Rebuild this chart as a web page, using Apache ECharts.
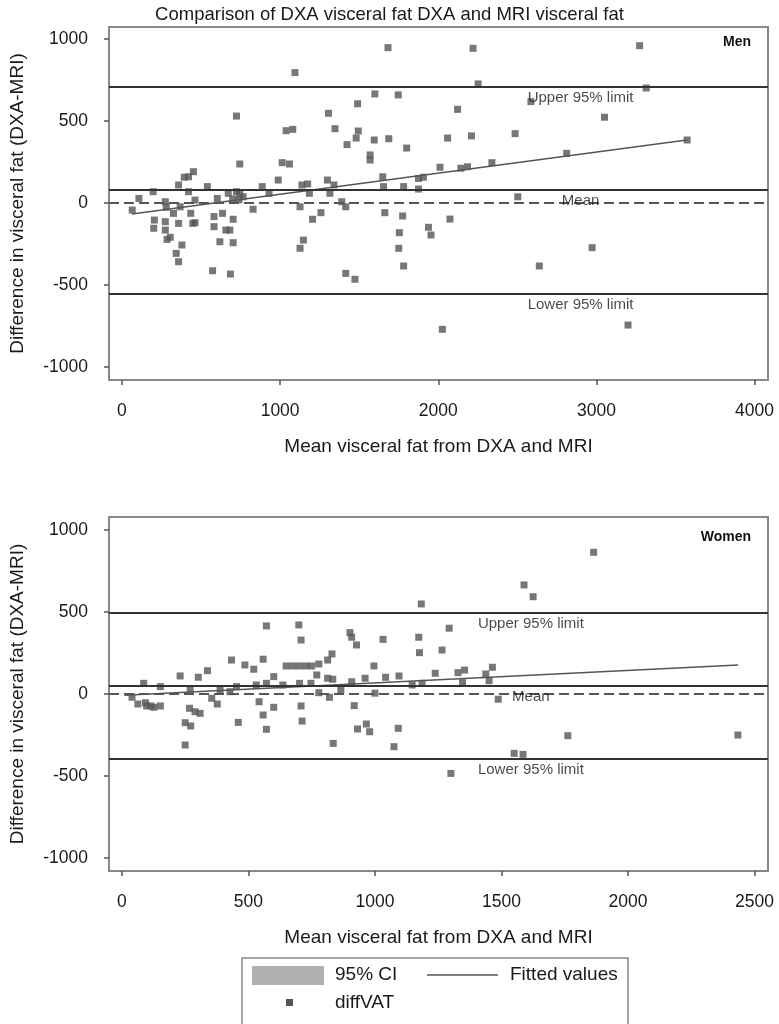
<!DOCTYPE html>
<html>
<head>
<meta charset="utf-8">
<script src="https://cdn.jsdelivr.net/npm/echarts@6/dist/echarts.min.js"></script>
<style>
  html, body { margin: 0; padding: 0; background: #fff; }
  #chart { width: 779px; height: 1024px; }
</style>
</head>
<body>
<div id="chart"></div>
<script>
// Men: mean of DXA and MRI (x) vs difference DXA-MRI (y)
const menX = [65, 107, 197, 205, 201, 274, 280, 274, 274, 285, 305, 326, 358, 358, 368, 343, 379, 358, 394, 421,
  452, 421, 435, 448, 462, 462, 540, 573, 582, 582, 603, 636, 619, 657, 682, 703, 703, 686, 672, 724,
  766, 745, 700, 740, 724, 745, 829, 887, 930, 988, 1013, 1059, 1038, 1080, 1094, 1126, 1126, 1147, 1138, 1174,
  1185, 1205, 1258, 1299, 1341, 1315, 1306, 1347, 1390, 1415, 1415, 1473, 1423, 1481, 1494, 1490, 1569, 1569, 1595, 1599,
  1649, 1654, 1662, 1682, 1687, 1747, 1754, 1750, 1775, 1781, 1781, 1800, 1875, 1906, 1875, 1938, 1954, 2011, 2026, 2059,
  2074, 2122, 2143, 2185, 2210, 2220, 2252, 2339, 2486, 2503, 2586, 2639, 2812, 2973, 3051, 3200, 3273, 3315, 3574];
const menY = [-43, 28, 69, -104, -154, 8, -26, -114, -165, -222, -209, -63, -124, 110, -23, -307, -256, -358, 157, 160,
  191, 69, -63, -124, -120, 18, 100, -413, -83, -144, 28, -63, -236, -165, -165, -99, -242, -433, 59, 69,
  38, 55, 25, 20, 530, 238, -38, 100, 59, 140, 246, 238, 441, 449, 795, -23, -276, -226, 110, 116,
  59, -99, -59, 140, 110, 59, 547, 453, 8, -23, -429, -465, 356, 396, 439, 605, 293, 262, 384, 665,
  160, 100, -59, 947, 392, 659, -181, -276, -79, -384, 100, 335, 150, 157, 85, -148, -195, 218, -770, 396,
  -98, 571, 212, 221, 409, 943, 726, 246, 423, 38, 618, -384, 303, -272, 523, -744, 959, 701, 384];
const menFitX = [63, 3572];
const menFitY = [-67, 384];
const menLimits = [707, 79, -555];   // upper 95%, mean, lower 95%

// Women
const womenX = [40, 63, 86, 93, 98, 115, 126, 152, 152, 230, 250, 272, 250, 267, 289, 309, 270, 302, 338, 355,
  377, 388, 427, 433, 453, 460, 486, 521, 531, 542, 558, 558, 571, 571, 571, 600, 600, 636, 649, 675,
  699, 701, 702, 708, 708, 712, 727, 747, 750, 770, 778, 778, 813, 830, 813, 833, 820, 835, 865, 901,
  908, 927, 908, 918, 931, 961, 966, 979, 996, 1000, 1032, 1042, 1075, 1092, 1095, 1147, 1173, 1176, 1183, 1186,
  1238, 1265, 1293, 1300, 1328, 1346, 1354, 1438, 1451, 1464, 1487, 1550, 1585, 1589, 1625, 1762, 1864, 2434];
const womenY = [-20, -61, 65, -53, -73, -73, -81, -73, 45, 110, -175, -195, -311, -87, -108, -118, 29, 102, 142, -26,
  -61, 24, 14, 207, 45, -173, 177, 151, 55, -47, -128, 212, -215, 415, 65, 106, -81, 55, 171, 171,
  421, 171, 65, 329, -73, -165, 171, 65, 171, 116, 183, 8, 207, 244, 96, 90, -20, -301, 24, 374,
  346, 299, 75, -71, -213, 96, -183, -230, 171, 5, 333, 102, -321, -209, 110, 55, 346, 252, 549, 65,
  126, 268, 401, -484, 130, 69, 146, 122, 81, 163, -32, -362, -368, 665, 593, -254, 864, -250];
const womenFitX = [10, 2435];
const womenFitY = [-8, 177];
const womenLimits = [494, 49, -396];

const limitNames = ['Upper 95% limit', 'Mean', 'Lower 95% limit'];
const menTicksX = [0, 1000, 2000, 3000, 4000];
const womenTicksX = [0, 500, 1000, 1500, 2000, 2500];
const ticksY = [-1000, -500, 0, 500, 1000];

const chart = echarts.init(document.getElementById('chart'));
const font = '"Liberation Sans", Arial, sans-serif';
const ink = '#1a1a1a';

function xAxis(grid, min, max, ticks) {
  return {
    type: 'value', gridIndex: grid, min: min, max: max,
    name: 'Mean visceral fat from DXA and MRI', nameLocation: 'middle', nameGap: 57,
    nameTextStyle: { fontFamily: font, fontSize: 19, color: ink },
    axisLine: { show: false, onZero: false },
    axisTick: { show: true, length: 5, customValues: ticks, lineStyle: { color: '#555', width: 1.5 } },
    axisLabel: { customValues: ticks, formatter: v => String(v), margin: 22, fontFamily: font, fontSize: 17.5, color: ink },
    splitLine: { show: false }
  };
}
function yAxis(grid, min, max) {
  return {
    type: 'value', gridIndex: grid, min: min, max: max,
    name: 'Difference in visceral fat (DXA-MRI)', nameLocation: 'middle', nameGap: 82,
    nameTextStyle: { fontFamily: font, fontSize: 19, color: ink },
    axisLine: { show: false, onZero: false },
    axisTick: { show: true, length: 5, customValues: ticksY, lineStyle: { color: '#555', width: 1.5 } },
    axisLabel: { customValues: ticksY, formatter: v => String(v), margin: 21, fontFamily: font, fontSize: 17.5, color: ink },
    splitLine: { show: false }
  };
}

function panel(idx, xs, ys, fitX, fitY, limits, noteX) {
  const limitLines = limits.map(v => ({ yAxis: v }));
  limitLines.push({ yAxis: 0, lineStyle: { type: [10, 5], color: '#555', width: 2 } });
  return [
    {
      type: 'scatter', name: 'diffVAT', xAxisIndex: idx, yAxisIndex: idx,
      symbol: 'rect', symbolSize: 7,
      itemStyle: { color: '#555' },
      data: xs.map((x, i) => [x, ys[i]]),
      markLine: {
        silent: true, symbol: 'none', label: { show: false },
        lineStyle: { color: '#333', width: 2, type: 'solid' },
        data: limitLines
      },
      z: 3
    },
    {
      type: 'line', name: 'Fitted values', xAxisIndex: idx, yAxisIndex: idx,
      showSymbol: false, lineStyle: { color: '#555', width: 1.4 },
      data: fitX.map((x, i) => [x, fitY[i]]), z: 4
    },
    {
      type: 'scatter', xAxisIndex: idx, yAxisIndex: idx, symbolSize: 0, silent: true,
      data: limits.map((v, i) => ({ value: [noteX, v], name: limitNames[i] })),
      label: {
        show: true, formatter: '{b}', fontFamily: font, fontSize: 15, color: ink,
        position: [0, 0], align: 'center', verticalAlign: 'top', padding: [3, 0, 0, 0]
      },
      z: 5
    }
  ];
}

const option = {
  animation: false,
  backgroundColor: '#fff',
  title: {
    text: 'Comparison of DXA visceral fat DXA and MRI visceral fat',
    left: 'center', top: 0,
    textStyle: { fontFamily: font, fontSize: 18.5, fontWeight: 'normal', color: ink }
  },
  grid: [
    { left: 105, top: 27, width: 663, height: 353, show: true, borderColor: '#888', borderWidth: 2, backgroundColor: '#fff' },
    { left: 105, top: 517, width: 663, height: 354, show: true, borderColor: '#888', borderWidth: 2, backgroundColor: '#fff' }
  ],
  xAxis: [xAxis(0, -82, 4085, menTicksX), xAxis(1, -51, 2553, womenTicksX)],
  yAxis: [yAxis(0, -1079, 1073), yAxis(1, -1079, 1079)],
  series: [].concat(
    panel(0, menX, menY, menFitX, menFitY, menLimits, 2900),
    panel(1, womenX, womenY, womenFitX, womenFitY, womenLimits, 1616)
  ),
  graphic: [
    { type: 'text', right: 28, top: 35, style: { text: 'Men', font: 'bold 14px ' + font, fill: '#111' } },
    { type: 'text', right: 28, top: 530, style: { text: 'Women', font: 'bold 14px ' + font, fill: '#111' } },
    // legend box
    { type: 'rect', shape: { x: 242, y: 958, width: 386, height: 80 }, style: { fill: '#fff', stroke: '#888', lineWidth: 1.5 } },
    { type: 'rect', shape: { x: 252, y: 966, width: 72, height: 19 }, style: { fill: '#b0b0b0' } },
    { type: 'text', x: 335, y: 975, style: { text: '95% CI', font: '19px ' + font, fill: ink, verticalAlign: 'middle' } },
    { type: 'line', shape: { x1: 427, y1: 975, x2: 498, y2: 975 }, style: { stroke: '#555', lineWidth: 1.5 } },
    { type: 'text', x: 510, y: 975, style: { text: 'Fitted values', font: '19px ' + font, fill: ink, verticalAlign: 'middle' } },
    { type: 'rect', shape: { x: 286, y: 999, width: 7, height: 7 }, style: { fill: '#555' } },
    { type: 'text', x: 335, y: 1003, style: { text: 'diffVAT', font: '19px ' + font, fill: ink, verticalAlign: 'middle' } }
  ]
};
chart.setOption(option);
</script>
</body>
</html>
